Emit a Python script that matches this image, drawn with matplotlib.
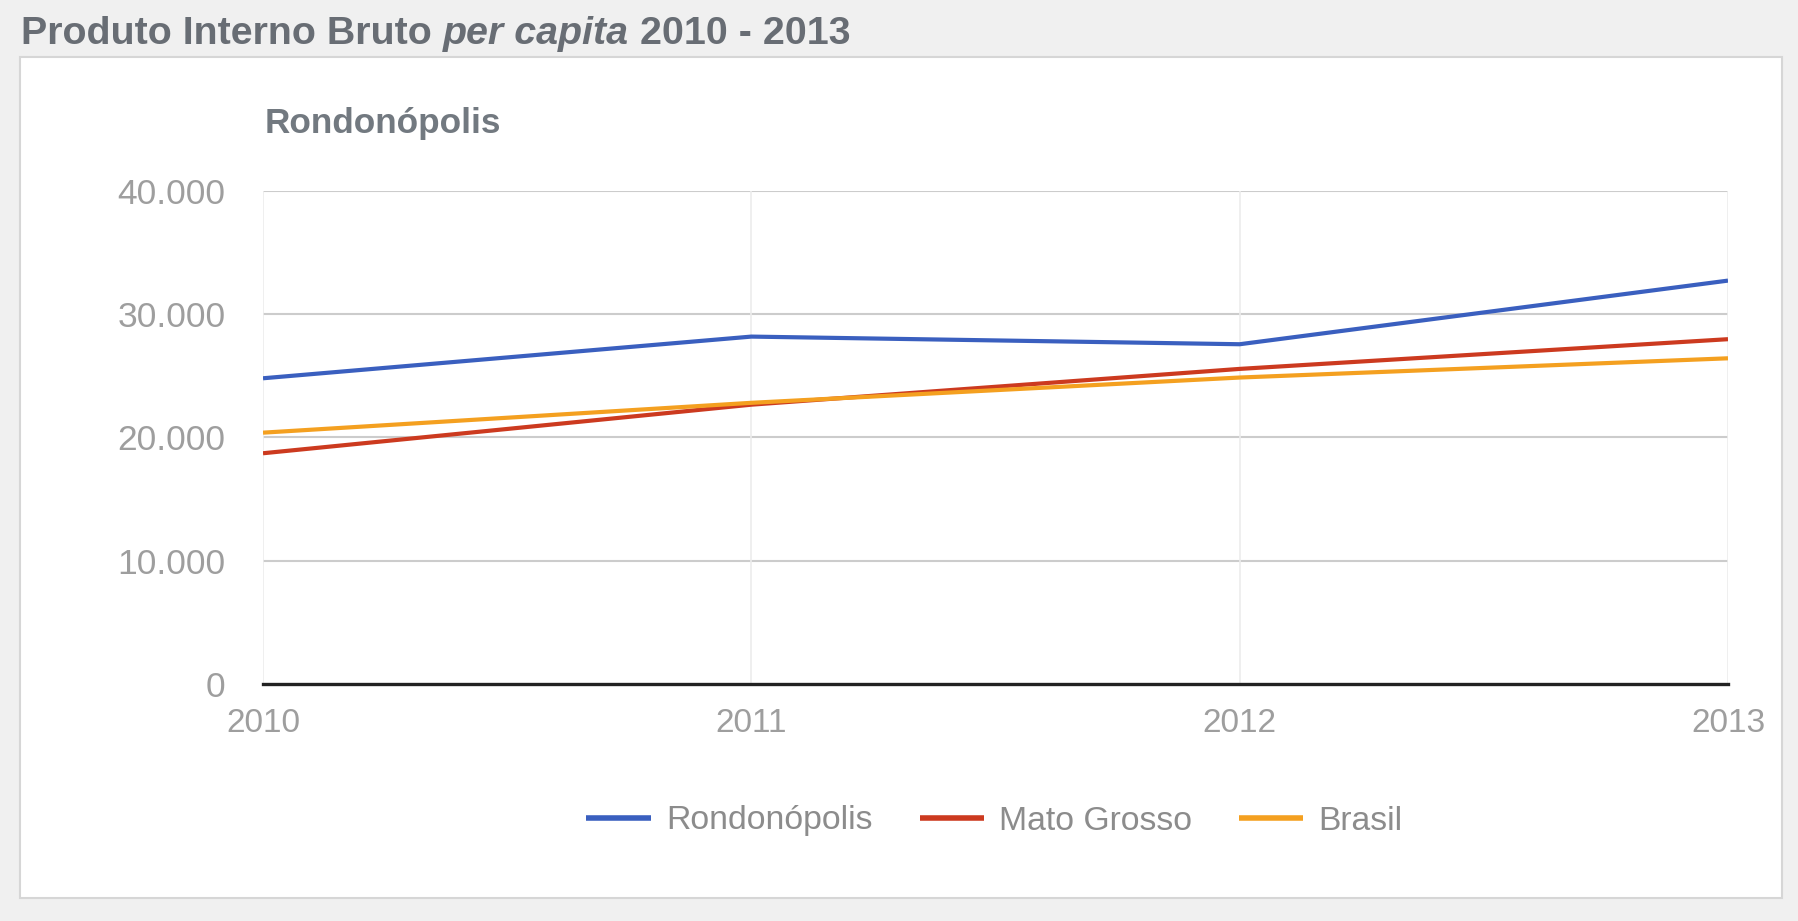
import matplotlib
matplotlib.use("Agg")
import matplotlib.pyplot as plt
from matplotlib.patches import Rectangle
from matplotlib.ticker import FuncFormatter

years = [2010, 2011, 2012, 2013]
series_names = ["Rondonópolis", "Mato Grosso", "Brasil"]
rondonopolis = [24790, 28170, 27550, 32710]
mato_grosso = [18710, 22650, 25550, 27960]
brasil = [20380, 22800, 24850, 26410]
y_ticks = [0, 10000, 20000, 30000, 40000]
colors = ["#3a5fbf", "#cc3a1f", "#f4a020"]

plt.rcParams['font.family'] = ['Liberation Sans', 'DejaVu Sans']

W, H = 1798, 921
fig = plt.figure(figsize=(W / 100, H / 100), dpi=100, facecolor="#f0f0f0")

# white panel
panel = Rectangle((20 / W, 1 - 898 / H), (1782 - 20) / W, (898 - 57) / H,
                  transform=fig.transFigure, facecolor="white",
                  edgecolor="#d6d6d6", lw=1.5, zorder=-5)
fig.patches.append(panel)

ax = fig.add_axes([263 / W, 1 - 684 / H, (1728 - 263) / W, (684 - 190.7) / H])
ax.set_zorder(2)
ax.set_facecolor("white")

for vals, name, c in zip([rondonopolis, mato_grosso, brasil], series_names, colors):
    ax.plot(years, vals, color=c, lw=3.0, label=name, solid_capstyle="butt", zorder=3)

ax.set_xlim(2010, 2013)
ax.set_ylim(0, 40000)
ax.set_xticks(years)
ax.set_xticklabels([str(y) for y in years])
ax.set_yticks(y_ticks)
ax.yaxis.set_major_formatter(FuncFormatter(lambda v, p: f"{int(v):,}".replace(",", ".")))

for s in ["top", "right", "left"]:
    ax.spines[s].set_visible(False)
ax.spines["bottom"].set_color("#222222")
ax.spines["bottom"].set_linewidth(2.4)
ax.spines["bottom"].set_zorder(4)

ax.tick_params(axis="both", length=0, labelsize=24, labelcolor="#9e9e9e")
ax.tick_params(axis="y", pad=27, labelsize=25.5)
ax.tick_params(axis="x", pad=17)

for yv in y_ticks[1:]:
    ax.axhline(yv, color="#cccccc", lw=1.5, zorder=1)
for xv in years:
    ax.axvline(xv, color="#ececec", lw=1.2, zorder=1)

# subtitle
fig.text(265 / W, 1 - 133 / H, "Rondonópolis", fontsize=25.3, fontweight="bold",
         color="#727980", va="baseline", ha="left")

# title with italic part
renderer = fig.canvas.get_renderer()
x0 = 21 / W
yb = 1 - 44 / H
parts = [("Produto Interno Bruto ", "normal"), ("per capita", "italic"), (" 2010 - 2013", "normal")]
for txt, style in parts:
    t = fig.text(x0, yb, txt, fontsize=28.4, fontweight="bold", fontstyle=style,
                 color="#686d74", va="baseline", ha="left")
    bb = t.get_window_extent(renderer=renderer)
    x0 = (bb.x1) / W

leg = fig.legend(loc="center", bbox_to_anchor=(994.5 / W, 1 - 821 / H), ncol=3,
                 frameon=False, fontsize=24.3, handlelength=1.9, handletextpad=0.45,
                 columnspacing=1.4, labelcolor="#8c8c8c")
for h in leg.get_lines():
    h.set_linewidth(4)

fig.savefig("out.png", dpi=100, facecolor=fig.get_facecolor())
